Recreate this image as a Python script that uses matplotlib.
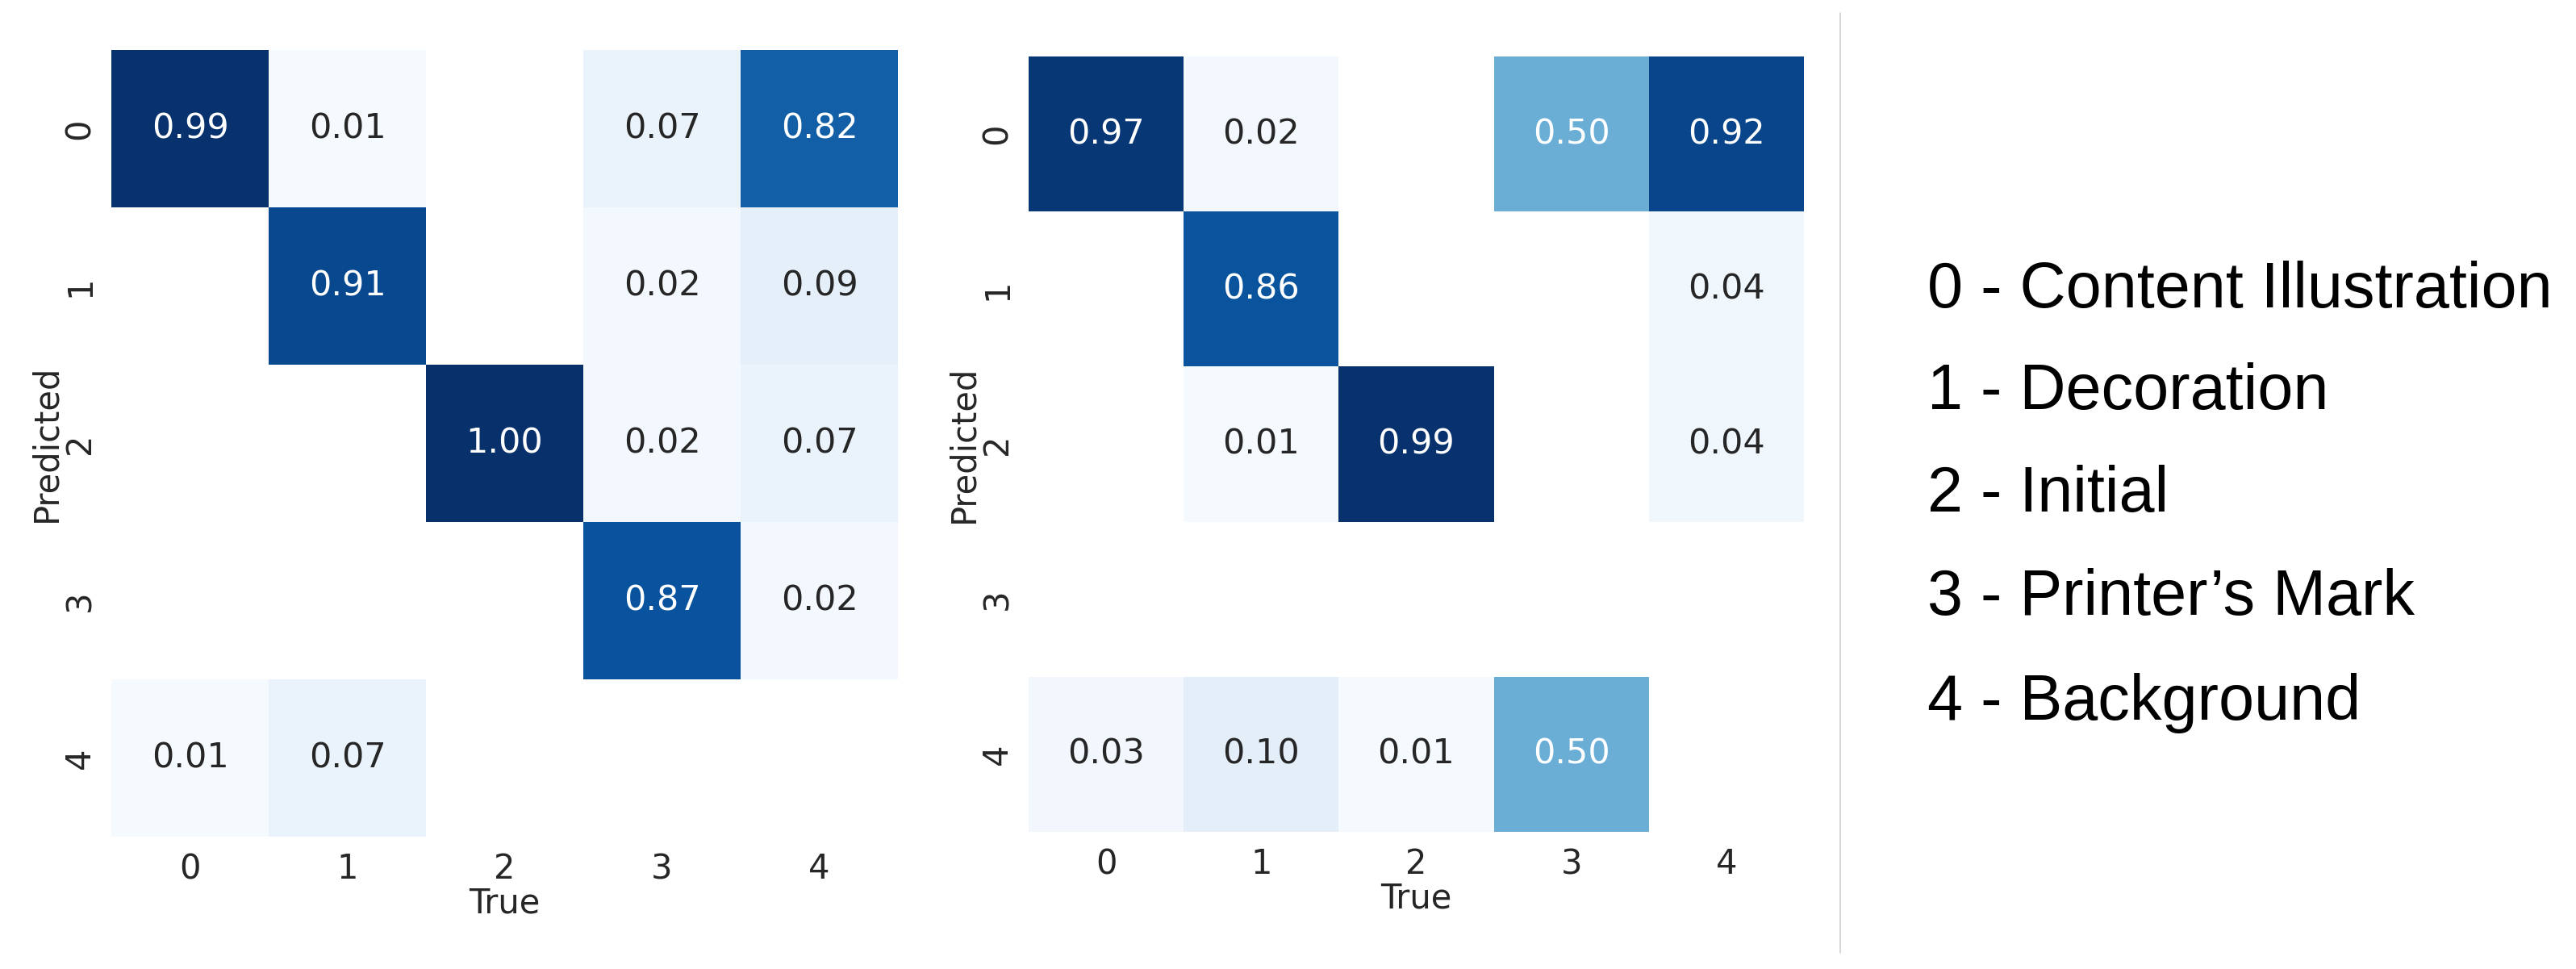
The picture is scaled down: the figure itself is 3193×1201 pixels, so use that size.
import numpy as np
import matplotlib
matplotlib.use("Agg")
import matplotlib.pyplot as plt
import seaborn as sns
from matplotlib.lines import Line2D

sns.set_theme(style="white")

labels = ["0", "1", "2", "3", "4"]

# rows = predicted, cols = true; 0 means empty cell
left_cm = np.array([
    [0.99, 0.01, 0.00, 0.07, 0.82],
    [0.00, 0.91, 0.00, 0.02, 0.09],
    [0.00, 0.00, 1.00, 0.02, 0.07],
    [0.00, 0.00, 0.00, 0.87, 0.02],
    [0.01, 0.07, 0.00, 0.00, 0.00],
])

right_cm = np.array([
    [0.97, 0.02, 0.00, 0.50, 0.92],
    [0.00, 0.86, 0.00, 0.00, 0.04],
    [0.00, 0.01, 0.99, 0.00, 0.04],
    [0.00, 0.00, 0.00, 0.00, 0.00],
    [0.03, 0.10, 0.01, 0.50, 0.00],
])

class_names = [
    "0 - Content Illustration",
    "1 - Decoration",
    "2 - Initial",
    "3 - Printer\u2019s Mark",
    "4 - Background",
]

W, H = 3193, 1201
fig = plt.figure(figsize=(W / 100, H / 100), dpi=100)


def box(x0, y0, w, h):
    # pixel box -> figure fraction
    return [x0 / W, 1 - (y0 + h) / H, w / W, h / H]


def draw_cm(ax, cm):
    sns.heatmap(cm, mask=(cm == 0), cmap="Blues", vmin=0, vmax=1,
                annot=True, fmt=".2f", cbar=False, ax=ax,
                annot_kws={"size": 31},
                xticklabels=labels, yticklabels=labels)
    ax.set_xlabel("True", fontsize=30, color="#262626", labelpad=0)
    ax.set_ylabel("Predicted", fontsize=30, color="#262626", labelpad=0)
    ax.tick_params(axis="both", length=0, labelsize=30, colors="#262626")
    ax.tick_params(axis="x", pad=14)
    ax.tick_params(axis="y", pad=13)
    plt.setp(ax.get_yticklabels(), rotation=90, va="center")
    plt.setp(ax.get_xticklabels(), rotation=0)


ax1 = fig.add_axes(box(138, 62, 975, 975))
draw_cm(ax1, left_cm)

ax2 = fig.add_axes(box(1275, 70, 961, 961))
draw_cm(ax2, right_cm)

# separator
fig.add_artist(Line2D([2281 / W, 2281 / W], [1 - 16 / H, 1 - 1181 / H],
                      color="#cccccc", linewidth=1.1))

baselines = [381, 507, 634, 762, 892]
for name, y in zip(class_names, baselines):
    fig.text(2389 / W, 1 - y / H, name, fontsize=57, family="Liberation Sans",
             color="black", va="baseline", ha="left")

fig.savefig("out.png", dpi=100, facecolor="white")
